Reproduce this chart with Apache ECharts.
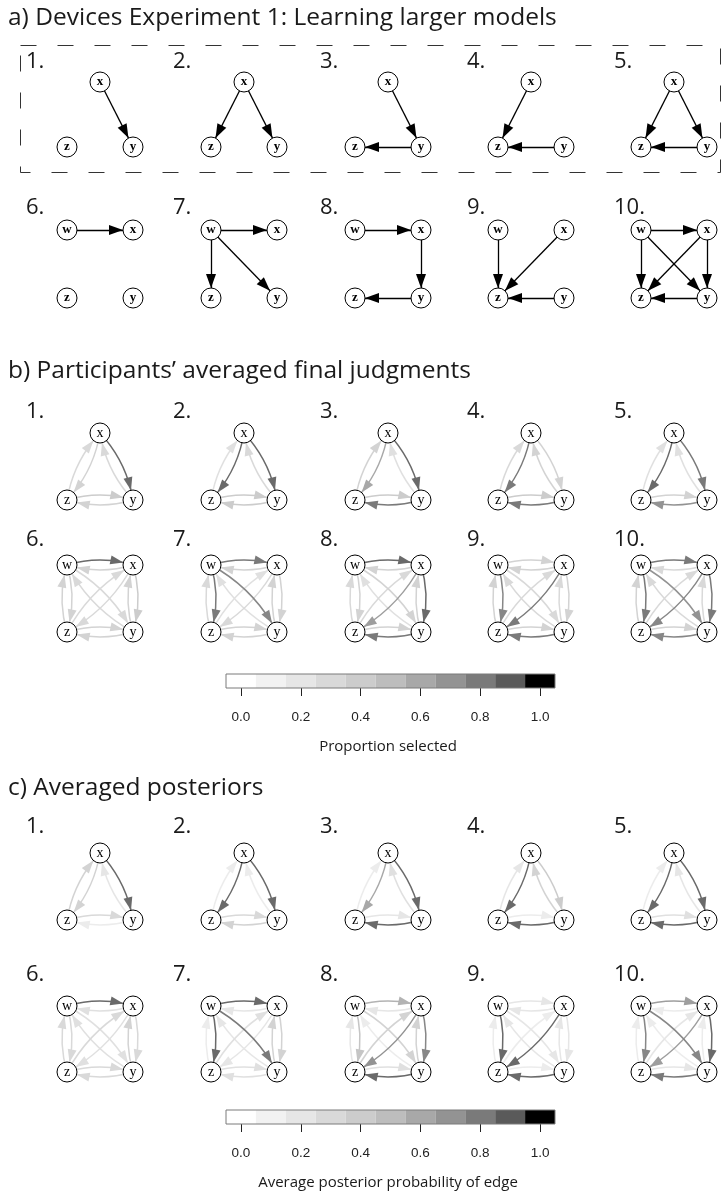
<!DOCTYPE html>
<html>
<head>
<meta charset="utf-8">
<script src="https://cdn.jsdelivr.net/npm/echarts@6/dist/echarts.min.js"></script>
<style>
  html, body { margin: 0; padding: 0; background: #fff; }
  #main { width: 722px; height: 1199px; }
</style>
</head>
<body>
<div id="main"></div>
<script>
// ---------- data ----------
const panelLabels = ['1.', '2.', '3.', '4.', '5.', '6.', '7.', '8.', '9.', '10.'];

// a) true structure of each device
const deviceEdges = [
  [['x', 'y']],
  [['x', 'z'], ['x', 'y']],
  [['x', 'y'], ['y', 'z']],
  [['x', 'z'], ['y', 'z']],
  [['x', 'z'], ['x', 'y'], ['y', 'z']],
  [['w', 'x']],
  [['w', 'x'], ['w', 'z'], ['w', 'y']],
  [['w', 'x'], ['x', 'y'], ['y', 'z']],
  [['w', 'z'], ['x', 'z'], ['y', 'z']],
  [['w', 'x'], ['w', 'z'], ['w', 'y'], ['x', 'z'], ['x', 'y'], ['y', 'z']]
];

// order of the possible edges for 3 and 4 variable devices
const edgesTri = [['x', 'y'], ['y', 'x'], ['x', 'z'], ['z', 'x'], ['z', 'y'], ['y', 'z']];
const edgesQuad = [['w', 'x'], ['x', 'w'], ['w', 'z'], ['z', 'w'], ['w', 'y'], ['y', 'w'],
                   ['x', 'z'], ['z', 'x'], ['x', 'y'], ['y', 'x'], ['z', 'y'], ['y', 'z']];

// b) proportion of participants selecting each edge
const judgments = [
  [0.85, 0.30, 0.35, 0.30, 0.40, 0.35],
  [0.85, 0.30, 0.85, 0.25, 0.40, 0.40],
  [0.85, 0.25, 0.60, 0.35, 0.40, 0.80],
  [0.35, 0.35, 0.80, 0.30, 0.40, 0.80],
  [0.80, 0.25, 0.85, 0.25, 0.35, 0.70],
  [0.85, 0.35, 0.35, 0.35, 0.30, 0.30, 0.30, 0.30, 0.40, 0.35, 0.35, 0.35],
  [0.80, 0.35, 0.80, 0.30, 0.75, 0.25, 0.30, 0.25, 0.35, 0.35, 0.35, 0.35],
  [0.85, 0.35, 0.35, 0.30, 0.35, 0.25, 0.65, 0.30, 0.85, 0.35, 0.35, 0.80],
  [0.35, 0.35, 0.75, 0.35, 0.30, 0.30, 0.80, 0.30, 0.35, 0.30, 0.35, 0.80],
  [0.80, 0.30, 0.80, 0.35, 0.70, 0.30, 0.75, 0.30, 0.80, 0.30, 0.35, 0.75]
];

// c) averaged posterior probability of each edge
const posteriors = [
  [0.85, 0.20, 0.35, 0.35, 0.30, 0.15],
  [0.85, 0.15, 0.85, 0.15, 0.30, 0.35],
  [0.85, 0.25, 0.60, 0.15, 0.20, 0.85],
  [0.40, 0.35, 0.85, 0.20, 0.15, 0.85],
  [0.85, 0.20, 0.85, 0.15, 0.25, 0.85],
  [0.85, 0.25, 0.30, 0.30, 0.25, 0.25, 0.25, 0.30, 0.30, 0.35, 0.30, 0.30],
  [0.85, 0.20, 0.85, 0.15, 0.80, 0.20, 0.20, 0.25, 0.35, 0.35, 0.25, 0.25],
  [0.55, 0.20, 0.45, 0.20, 0.35, 0.15, 0.70, 0.35, 0.75, 0.35, 0.25, 0.85],
  [0.20, 0.20, 0.85, 0.15, 0.20, 0.20, 0.85, 0.15, 0.20, 0.20, 0.15, 0.85],
  [0.65, 0.15, 0.75, 0.15, 0.75, 0.15, 0.65, 0.20, 0.85, 0.15, 0.20, 0.80]
];

const colorbarTicks = ['0.0', '0.1', '0.2', '0.3', '0.4', '0.5', '0.6', '0.7', '0.8', '0.9', '1.0'];
const colorbarGrays = [255, 242, 230, 217, 204, 189, 168, 147, 122, 90, 0];

// ---------- layout ----------
const colX = [100, 244, 388, 531, 674];
const labelX = [26, 173, 320, 467, 614];
const rows = {
  a: [{ label: 62, top: 82, bottom: 147 }, { label: 208, top: 230, bottom: 298 }],
  b: [{ label: 412, top: 433, bottom: 500 }, { label: 540, top: 565, bottom: 632 }],
  c: [{ label: 827, top: 853, bottom: 920 }, { label: 975, top: 1006, bottom: 1072 }]
};
const HALF = 33;
const SANS = '"Open Sans", "Noto Sans", sans-serif';
const SERIF = '"Liberation Serif", "DejaVu Serif", serif';

// arrow heads: tip sits at symbol centre, so it touches the node circle
const arrowA = 'path://M0,0 M28,0 M14,14 L19,28 L9,28 Z';
const arrowBC = 'path://M0,0 M26,0 M13,13 L17.5,26 L8.5,26 Z';

function grayOf(v) {
  const t = Math.max(0, Math.min(10, v * 10));
  const i = Math.min(9, Math.floor(t));
  const g = Math.round(colorbarGrays[i] + (colorbarGrays[i + 1] - colorbarGrays[i]) * (t - i));
  return 'rgb(' + g + ',' + g + ',' + g + ')';
}

function nodesFor(panel, row) {
  const cx = colX[panel % 5];
  const quad = panel >= 5;
  const pos = quad
    ? { w: [cx - HALF, row.top], x: [cx + HALF, row.top], z: [cx - HALF, row.bottom], y: [cx + HALF, row.bottom] }
    : { x: [cx, row.top], z: [cx - HALF, row.bottom], y: [cx + HALF, row.bottom] };
  return Object.keys(pos).map(n => ({ name: n, value: pos[n] }));
}

function graphSeries(nodes, links, bold, arrow, arrowSize, width, curveness) {
  return {
    type: 'graph',
    coordinateSystem: 'cartesian2d',
    xAxisIndex: 0,
    yAxisIndex: 0,
    layout: 'none',
    silent: true,
    animation: false,
    symbol: 'circle',
    symbolSize: 20,
    itemStyle: { color: '#fff', borderColor: '#000', borderWidth: 1 },
    label: {
      show: true, position: 'inside', formatter: '{b}', color: '#000',
      fontFamily: SERIF, fontSize: bold ? 13 : 14, fontWeight: bold ? 'bold' : 'normal'
    },
    edgeSymbol: ['none', arrow],
    edgeSymbolSize: [0, arrowSize],
    lineStyle: { width: width, curveness: curveness, opacity: 1, color: '#000' },
    emphasis: { disabled: true },
    data: nodes,
    links: links
  };
}

const series = [];

// a) device structures
deviceEdges.forEach((edges, i) => {
  const row = rows.a[i < 5 ? 0 : 1];
  const links = edges.map(e => ({ source: e[0], target: e[1] }));
  series.push(graphSeries(nodesFor(i, row), links, true, arrowA, 28, 1.3, 0));
});

// b) and c) weighted edges
function weighted(values, sec) {
  values.forEach((vals, i) => {
    const row = rows[sec][i < 5 ? 0 : 1];
    const order = i < 5 ? edgesTri : edgesQuad;
    const links = order.map((e, k) => ({
      source: e[0], target: e[1], v: vals[k],
      lineStyle: { color: grayOf(vals[k]) }
    })).sort((p, q) => p.v - q.v);
    series.push(graphSeries(nodesFor(i, row), links, false, arrowBC, 26, 1.5, 0.15));
  });
}
weighted(judgments, 'b');
weighted(posteriors, 'c');

// colour bars
const barTops = [674, 1110];
[1, 2].forEach(g => {
  series.push({
    type: 'bar',
    xAxisIndex: g,
    yAxisIndex: g,
    silent: true,
    animation: false,
    barCategoryGap: '0%',
    data: colorbarGrays.map(c => ({ value: 1, itemStyle: { color: 'rgb(' + c + ',' + c + ',' + c + ')' } }))
  });
});

// ---------- texts ----------
const graphic = [];
function text(str, x, y, size, align, family) {
  graphic.push({
    type: 'text', silent: true, z: 10,
    style: {
      text: str, x: x, y: y, fill: '#1a1a1a',
      font: size + 'px ' + (family || SANS),
      align: align || 'left', textAlign: align || 'left',
      verticalAlign: 'middle', textVerticalAlign: 'middle'
    }
  });
}
text('a) Devices Experiment 1: Learning larger models', 8, 18, 24.5);
text('b) Participants\u2019 averaged final judgments', 8, 371, 24.5);
text('c) Averaged posteriors', 8, 788, 24.5);
['a', 'b', 'c'].forEach(sec => {
  panelLabels.forEach((lab, i) => {
    text(lab, labelX[i % 5], rows[sec][i < 5 ? 0 : 1].label, 22);
  });
});
text('Proportion selected', 388, 747, 15, 'center');
text('Average posterior probability of edge', 388, 1183, 15, 'center');

// dashed frame around the first five devices
graphic.push({
  type: 'rect', silent: true, z: 1,
  shape: { x: 20.5, y: 45.5, width: 700, height: 127 },
  style: { fill: 'none', stroke: '#333', lineWidth: 1, lineDash: [16, 21] }
});
barTops.forEach(t => {
  graphic.push({
    type: 'rect', silent: true, z: 10,
    shape: { x: 226, y: t, width: 329, height: 14 },
    style: { fill: 'none', stroke: '#7a7a7a', lineWidth: 1 }
  });
});

function barAxis(g) {
  return {
    gridIndex: g, type: 'category', data: colorbarTicks, boundaryGap: true,
    axisLine: { show: false },
    axisTick: { show: true, interval: 1, alignWithLabel: true, length: 8, lineStyle: { color: '#222', width: 1 } },
    axisLabel: { interval: 1, margin: 22, fontSize: 13.5, color: '#222', fontFamily: '"Liberation Sans", Arial, sans-serif' },
    splitLine: { show: false }
  };
}

const option = {
  backgroundColor: '#fff',
  animation: false,
  grid: [
    { left: 0, top: 0, width: 722, height: 1199, show: false },
    { left: 226, top: barTops[0], width: 329, height: 14, show: false },
    { left: 226, top: barTops[1], width: 329, height: 14, show: false }
  ],
  xAxis: [
    { gridIndex: 0, type: 'value', min: 0, max: 722, show: false },
    barAxis(1),
    barAxis(2)
  ],
  yAxis: [
    { gridIndex: 0, type: 'value', min: 0, max: 1199, inverse: true, show: false },
    { gridIndex: 1, type: 'value', min: 0, max: 1, show: false },
    { gridIndex: 2, type: 'value', min: 0, max: 1, show: false }
  ],
  graphic: graphic,
  series: series
};

const chart = echarts.init(document.getElementById('main'));
chart.setOption(option);
</script>
</body>
</html>
